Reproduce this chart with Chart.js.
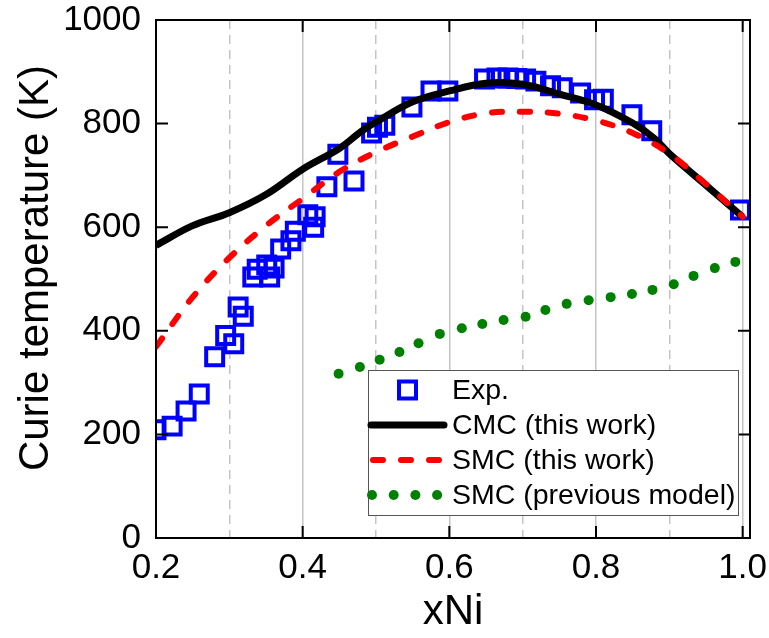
<!DOCTYPE html>
<html>
<head>
<meta charset="utf-8">
<script src="https://cdn.jsdelivr.net/npm/chart.js@4"></script>
<style>
  html, body { margin: 0; padding: 0; background: #fff; }
  #wrap { width: 769px; height: 638px; position: relative; }
</style>
</head>
<body>
<div id="wrap"><canvas id="curie"></canvas></div>
<script>
const FONT = "'Liberation Sans', Arial, sans-serif";

// experimental points (xNi, Tc in K)
const expX = [0.200, 0.222, 0.241, 0.259, 0.280, 0.295, 0.306, 0.312, 0.319, 0.332,
  0.338, 0.351, 0.355, 0.361, 0.370, 0.384, 0.390, 0.407, 0.415, 0.417,
  0.433, 0.448, 0.470, 0.494, 0.502, 0.512, 0.549, 0.575, 0.598, 0.648,
  0.665, 0.680, 0.692, 0.704, 0.718, 0.738, 0.754, 0.779, 0.798, 0.810,
  0.849, 0.876, 0.997];
const expY = [209, 216, 245, 278, 350, 391, 375, 446, 428, 504,
  519, 527, 504, 521, 558, 574, 592, 624, 600, 620,
  678, 741, 689, 782, 793, 797, 832, 863, 863, 886,
  888, 888, 887, 886, 882, 873, 869, 859, 846, 847,
  817, 786, 633];

// CMC (this work)
const cmcX = [0.20, 0.25, 0.30, 0.35, 0.40, 0.45, 0.48, 0.50, 0.55, 0.60, 0.65, 0.70, 0.75, 0.80, 0.85, 0.88, 0.90, 0.95, 1.00];
const cmcY = [565, 603, 628, 663, 712, 752, 785, 803, 842, 863, 878, 876, 857, 836, 801, 771, 742, 681, 620];

// SMC (this work)
const smcX = [0.20, 0.25, 0.30, 0.35, 0.40, 0.45, 0.50, 0.55, 0.60, 0.65, 0.70, 0.75, 0.80, 0.85, 0.90, 0.95, 1.00];
const smcY = [369, 465, 541, 603, 655, 707, 745, 775, 803, 820, 823, 819, 806, 782, 742, 683, 620];

// SMC (previous model)
const prevX = [0.449, 0.478, 0.505, 0.532, 0.558, 0.587, 0.617, 0.645, 0.674, 0.704,
  0.731, 0.760, 0.790, 0.820, 0.849, 0.877, 0.906, 0.933, 0.962, 0.990];
const prevY = [317, 330, 344, 359, 376, 394, 405, 413, 421, 427,
  440, 452, 459, 465, 471, 479, 490, 506, 521, 533];

const xGridValues = [0.2, 0.3, 0.4, 0.5, 0.6, 0.7, 0.8, 0.9, 1.0];
const xLabelValues = [0.2, 0.4, 0.6, 0.8, 1.0];
const yTickValues = [0, 200, 400, 600, 800, 1000];

const toPoints = (xs, ys) => xs.map((x, i) => ({ x, y: ys[i] }));
const isLabelled = (v) => xLabelValues.some((l) => Math.abs(l - v) < 1e-6);

const frameAndTicks = {
  id: 'frameAndTicks',
  afterDatasetsDraw(chart) {
    const { ctx, chartArea: a, scales: { x, y } } = chart;
    ctx.save();
    ctx.strokeStyle = '#000';
    ctx.lineWidth = 2;
    ctx.beginPath();
    xLabelValues.forEach((v) => {
      const px = x.getPixelForValue(v);
      ctx.moveTo(px, a.bottom); ctx.lineTo(px, a.bottom - 12);
      ctx.moveTo(px, a.top); ctx.lineTo(px, a.top + 12);
    });
    yTickValues.forEach((v) => {
      const py = y.getPixelForValue(v);
      ctx.moveTo(a.left, py); ctx.lineTo(a.left + 12, py);
      ctx.moveTo(a.right, py); ctx.lineTo(a.right - 12, py);
    });
    ctx.stroke();
    ctx.strokeRect(a.left, a.top, a.right - a.left, a.bottom - a.top);
    ctx.restore();
  },
};

// y title drawn by hand so it can sit a little above the axis centre, as in the original
const yTitle = {
  id: 'yTitle',
  afterDraw(chart) {
    const { ctx, chartArea: a } = chart;
    ctx.save();
    ctx.translate(36, (a.top + a.bottom) / 2 - 11);
    ctx.rotate(-Math.PI / 2);
    ctx.fillStyle = '#000';
    ctx.font = `42px ${FONT}`;
    ctx.textAlign = 'center';
    ctx.textBaseline = 'middle';
    ctx.fillText('Curie temperature (K)', 0, 0);
    ctx.restore();
  },
};

const boxLegend = {
  id: 'boxLegend',
  afterDraw(chart) {
    const { ctx, chartArea: a } = chart;
    const left = a.left + 212, top = a.top + 350;
    const width = 370, height = 145;
    ctx.save();
    ctx.fillStyle = '#fff';
    ctx.fillRect(left, top, width, height);
    ctx.strokeStyle = '#555';
    ctx.lineWidth = 1;
    ctx.strokeRect(left + 0.5, top + 0.5, width, height);

    const sx0 = left + 5, sx1 = left + 76;
    const rows = chart.data.datasets.map((ds, i) => ({ ds, y: top + 20 + i * 35 }));
    rows.forEach(({ ds, y }, i) => {
      ctx.save();
      if (i === 0) {
        ctx.strokeStyle = ds.borderColor;
        ctx.lineWidth = ds.borderWidth;
        ctx.strokeRect(left + 31, y - 8.5, 17, 17);
      } else if (ds.showLine === false) {
        ctx.fillStyle = ds.backgroundColor;
        for (let k = 0; k < 4; k++) {
          ctx.beginPath();
          ctx.arc(left + 4 + k * 21.7, y, ds.pointRadius, 0, Math.PI * 2);
          ctx.fill();
        }
      } else {
        ctx.strokeStyle = ds.borderColor;
        ctx.lineWidth = ds.borderWidth;
        ctx.lineCap = 'round';
        ctx.setLineDash(ds.borderDash || []);
        ctx.beginPath();
        ctx.moveTo(ds.borderDash ? sx0 : left + 3, y);
        ctx.lineTo(sx1, y);
        ctx.stroke();
      }
      ctx.restore();
      ctx.fillStyle = '#000';
      ctx.font = `28.5px ${FONT}`;
      ctx.textBaseline = 'middle';
      ctx.fillText(ds.label, left + 84, y + 1);
    });
    ctx.restore();
  },
};

new Chart(document.getElementById('curie'), {
  type: 'scatter',
  data: {
    datasets: [
      {
        label: 'Exp.',
        data: toPoints(expX, expY),
        pointStyle: 'rect',
        pointRadius: 12,
        pointHoverRadius: 12,
        borderColor: '#0000ff',
        backgroundColor: 'rgba(0,0,0,0)',
        borderWidth: 4,
        showLine: false,
        clip: 0,
        order: 4,
      },
      {
        label: 'CMC (this work)',
        data: toPoints(cmcX, cmcY),
        showLine: true,
        borderColor: '#000',
        borderWidth: 7,
        pointRadius: 0,
        tension: 0.35,
        clip: 0,
        order: 3,
      },
      {
        label: 'SMC (this work)',
        data: toPoints(smcX, smcY),
        showLine: true,
        borderColor: '#ff0000',
        borderWidth: 6,
        borderDash: [10, 18],
        borderCapStyle: 'round',
        pointRadius: 0,
        tension: 0.35,
        clip: 0,
        order: 2,
      },
      {
        label: 'SMC (previous model)',
        data: toPoints(prevX, prevY),
        showLine: false,
        pointStyle: 'circle',
        pointRadius: 5,
        pointHoverRadius: 5,
        backgroundColor: '#008000',
        borderColor: '#008000',
        borderWidth: 0,
        clip: 0,
        order: 1,
      },
    ],
  },
  options: {
    responsive: true,
    maintainAspectRatio: false,
    animation: false,
    events: [],
    layout: { padding: { top: 20, right: 19, left: 0, bottom: 0 } },
    plugins: {
      legend: { display: false },
      tooltip: { enabled: false },
    },
    scales: {
      x: {
        type: 'linear',
        min: 0.2,
        max: 1.01,
        afterBuildTicks: (scale) => { scale.ticks = xGridValues.map((value) => ({ value })); },
        afterFit: (scale) => {
          scale.height = 100;
          scale.paddingLeft = 0;
          scale.paddingRight = 0;
        },
        ticks: {
          autoSkip: false,
          maxRotation: 0,
          includeBounds: false,
          padding: 13,
          color: '#000',
          font: { family: FONT, size: 35, lineHeight: 1 },
          callback: (value) => isLabelled(value) ? value.toFixed(1) : '',
        },
        grid: {
          drawTicks: false,
          color: (ctx) => ctx.tick && ctx.tick.value > 0.21 ? '#c4c4c4' : 'rgba(0,0,0,0)',
          lineWidth: 1.5,
        },
        border: {
          display: false,
          dash: (ctx) => ctx.tick && !isLabelled(ctx.tick.value) ? [9, 6] : [],
        },
        title: {
          display: true,
          text: 'xNi',
          color: '#000',
          font: { family: FONT, size: 42, lineHeight: 1 },
          padding: { top: 0, bottom: 5 },
        },
      },
      y: {
        type: 'linear',
        min: 0,
        max: 1000,
        afterBuildTicks: (scale) => { scale.ticks = yTickValues.map((value) => ({ value })); },
        afterFit: (scale) => {
          scale.width = 156;
          scale.paddingTop = 0;
          scale.paddingBottom = 0;
        },
        ticks: {
          padding: 15,
          color: '#000',
          font: { family: FONT, size: 35, lineHeight: 1 },
          callback: (value) => String(value),
        },
        grid: { display: false, drawTicks: false },
        border: { display: false },
        title: { display: false },
      },
    },
  },
  plugins: [frameAndTicks, boxLegend, yTitle],
});
</script>
</body>
</html>
